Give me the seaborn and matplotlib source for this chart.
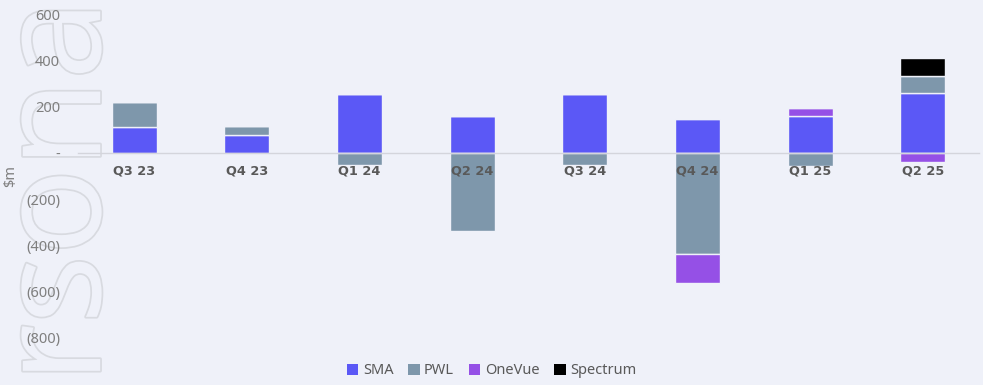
import numpy as np
import pandas as pd
import seaborn as sns
import matplotlib.pyplot as plt
from matplotlib.patches import Patch
import matplotlib.patheffects as pe
from matplotlib.ticker import FuncFormatter

quarters = ["Q3 23", "Q4 23", "Q1 24", "Q2 24", "Q3 24", "Q4 24", "Q1 25", "Q2 25"]
sma = [115, 80, 258, 161, 255, 149, 161, 260]
pwl = [105, 38, -50, -338, -54, -439, -57, 75]
onevue = [0, 0, 0, 0, 0, -125, 36, -38]
spectrum = [0, 0, 0, 0, 0, 0, 0, 77]

series_names = ["SMA", "PWL", "OneVue", "Spectrum"]
series_values = [sma, pwl, onevue, spectrum]
series_colors = ["#5b58f6", "#7e97ab", "#9550e6", "#000000"]

bg = "#eff1f9"

sns.set_theme(style="white")
plt.rcParams["font.family"] = ["Noto Sans", "DejaVu Sans"]

fig = plt.figure(figsize=(9.83, 3.85), dpi=100, facecolor=bg)
ax = fig.add_axes([78 / 983, (385 - 337) / 385, (979 - 78) / 983, (337 - 15) / 385])
ax.set_facecolor("none")

# Watermark lettering down the left side, behind the axes
fig.text(-0.010, 0.503, "rsona", rotation=90, ha="left", va="center",
         fontsize=104, color=bg, zorder=-5, family=["Open Sans", "DejaVu Sans"],
         path_effects=[pe.withStroke(linewidth=2.5, foreground="#d8dae0")])

pos_base = np.zeros(len(quarters))
neg_base = np.zeros(len(quarters))
for name, vals, col in zip(series_names, series_values, series_colors):
    v = np.array(vals, dtype=float)
    bottom = np.where(v >= 0, pos_base, neg_base)
    df = pd.DataFrame({"quarter": quarters, "value": v})
    sns.barplot(data=df, x="quarter", y="value", order=quarters, bottom=bottom,
                color=col, width=0.4, errorbar=None, ax=ax, saturation=1,
                edgecolor=bg, linewidth=1.0, zorder=2)
    pos_base = pos_base + np.where(v > 0, v, 0)
    neg_base = neg_base + np.where(v < 0, v, 0)

ax.set_ylim(-800, 600)
ax.set_xlim(-0.5, len(quarters) - 0.5)
ax.set_yticks(np.arange(-800, 601, 200))
ax.set_xticks(range(len(quarters)))
ax.set_xticklabels(quarters)


def fmt(v, _):
    if v == 0:
        return "-"
    if v < 0:
        return f"({abs(int(v))})"
    return f"{int(v)}"


ax.yaxis.set_major_formatter(FuncFormatter(fmt))
ax.tick_params(axis="y", length=0, pad=13, labelsize=10.5, labelcolor="#7f7f7f")
ax.tick_params(axis="x", length=0, pad=8, labelsize=10.5, labelcolor="#595959")

for s in ["top", "right", "left"]:
    ax.spines[s].set_visible(False)
ax.spines["bottom"].set_position(("data", 0))
ax.spines["bottom"].set_color("#d4d5dc")
ax.spines["bottom"].set_linewidth(1.0)
ax.set_axisbelow(False)

ax.set_xlabel("")
ax.set_ylabel("$m", fontsize=10.5, color="#7f7f7f")
ax.yaxis.set_label_coords(-0.066, 0.5)

handles = [Patch(facecolor=c, edgecolor="none") for c in series_colors]
fig.legend(handles, series_names, loc="center", bbox_to_anchor=(0.5, 1 - 371 / 385),
           ncol=4, frameon=False, fontsize=10.5, handlelength=0.8, handleheight=0.8,
           handletextpad=0.3, columnspacing=1.0, labelcolor="#595959")

# Bold quarter labels
for lab in ax.get_xticklabels():
    lab.set_fontweight("bold")
    lab.set_family(["DejaVu Sans"])
    lab.set_fontsize(9.3)

fig.savefig("out.png", dpi=100, facecolor=bg)
